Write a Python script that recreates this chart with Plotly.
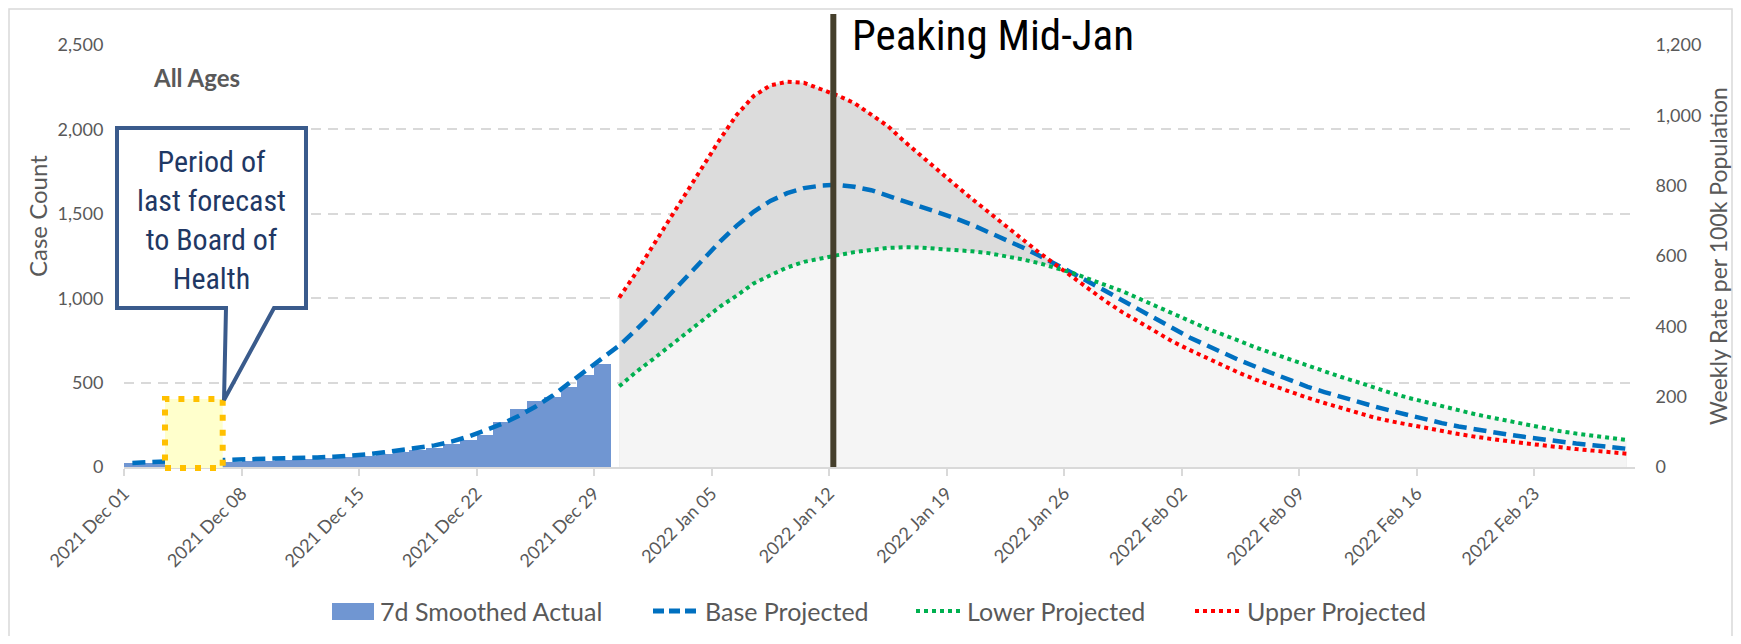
import pandas as pd
import plotly.graph_objects as go

# ---------------- data ----------------
actual_start = "2021-12-01"
actual_cases = [22, 23, 24, 25, 27, 29, 32, 35, 38, 42, 45, 49, 54, 60, 68, 77, 88, 100,
                115, 135, 162, 190, 269, 344, 389, 417, 476, 545, 610]

base_start = "2021-12-01"
base_projected = [24, 30, 33, 35, 37, 40, 43, 47, 49, 51, 53, 57, 61, 67, 75, 87, 99, 113,
                  128, 150, 180, 217, 255, 302, 357, 421, 496, 565, 644, 720, 812, 911, 1020,
                  1125, 1232, 1335, 1430, 1512, 1576, 1622, 1652, 1667, 1672, 1660, 1640, 1608,
                  1575, 1539, 1508, 1474, 1435, 1393, 1348, 1302, 1253, 1203, 1148, 1095, 1040,
                  982, 925, 870, 818, 766, 720, 674, 630, 590, 551, 513, 475, 444, 414, 386,
                  358, 332, 306, 283, 260, 240, 222, 206, 191, 177, 163, 150, 139, 129, 119, 108]

proj_start = "2021-12-30"
lower_projected = [478, 563, 638, 717, 792, 871, 950, 1016, 1087, 1136, 1182, 1215, 1237, 1255,
                   1273, 1288, 1298, 1302, 1300, 1292, 1288, 1278, 1267, 1251, 1230, 1208, 1182,
                   1150, 1113, 1076, 1040, 996, 951, 910, 866, 820, 783, 742, 705, 670, 635, 601,
                   565, 533, 502, 467, 438, 410, 385, 360, 336, 312, 292, 272, 252, 232, 213,
                   198, 184, 172, 160]
upper_projected = [1004, 1150, 1310, 1468, 1624, 1786, 1942, 2087, 2197, 2261, 2282, 2276, 2241,
                   2201, 2156, 2091, 2019, 1927, 1840, 1753, 1672, 1589, 1508, 1430, 1346, 1271,
                   1198, 1125, 1052, 980, 915, 855, 798, 741, 692, 644, 598, 554, 514, 478, 443,
                   410, 379, 349, 320, 292, 270, 250, 230, 211, 195, 179, 164, 152, 140, 127,
                   116, 106, 97, 88, 79]

x_tick_dates = pd.date_range("2021-12-01", "2022-02-23", freq="7D")
left_ticks = [0, 500, 1000, 1500, 2000, 2500]
right_ticks = [0, 200, 400, 600, 800, 1000, 1200]
peak_marker_date = "2022-01-12 06:00"

# ---------------- helpers (page pixels -> paper) ----------------
OFF = 8                      # default page margin of the html body
W, H = 1741 - 2 * OFF, 644 - 2 * OFF
def px(x):
    return (x - OFF) / W
def py(y):
    return 1 - (y - OFF) / H

half_day = pd.Timedelta(hours=12)
actual_x = pd.date_range(actual_start, periods=len(actual_cases), freq="D") + half_day
base_x = pd.date_range(base_start, periods=len(base_projected), freq="D") + half_day
proj_x = pd.date_range(proj_start, periods=len(upper_projected), freq="D") + half_day

GRAY_TXT = "#595959"
NARROW = "Liberation Sans Narrow, Arial Narrow, Roboto Condensed, DejaVu Sans Condensed, sans-serif"
LATO = "Lato, Carlito, Calibri, sans-serif"
BAR_C = "#7096D2"
BLUE = "#0070C0"
GREEN = "#00B050"
RED = "#FF0000"

fig = go.Figure()
fig.add_trace(go.Bar(x=actual_x, y=actual_cases, width=86400000, marker=dict(color=BAR_C, line=dict(width=0)),
                     name="7d Smoothed Actual", showlegend=False, hoverinfo="skip"))
fig.add_trace(go.Scatter(x=proj_x, y=upper_projected, mode="lines", line=dict(width=0),
                         fill="tozeroy", fillcolor="#DCDCDC", showlegend=False, hoverinfo="skip"))
fig.add_trace(go.Scatter(x=proj_x, y=lower_projected, mode="lines", line=dict(width=0),
                         fill="tozeroy", fillcolor="#F5F5F5", showlegend=False, hoverinfo="skip"))
fig.add_trace(go.Scatter(x=base_x, y=base_projected, mode="lines", name="Base Projected",
                         line=dict(color=BLUE, width=4.5, dash="13px,7px"), showlegend=False))
fig.add_trace(go.Scatter(x=proj_x, y=lower_projected, mode="lines", name="Lower Projected",
                         line=dict(color=GREEN, width=4, dash="4px,4px"), showlegend=False))
fig.add_trace(go.Scatter(x=proj_x, y=upper_projected, mode="lines", name="Upper Projected",
                         line=dict(color=RED, width=4, dash="4px,4px"), showlegend=False))
fig.add_trace(go.Scatter(x=[], y=[], yaxis="y2", showlegend=False))

shapes = []
# outer frame
shapes.append(dict(type="rect", xref="paper", yref="paper", x0=px(9), x1=px(1732), y0=py(640), y1=py(9),
                   line=dict(color="#D9D9D9", width=1.5), fillcolor="rgba(0,0,0,0)", layer="below"))
# peak marker line
shapes.append(dict(type="line", xref="x", yref="paper", x0=peak_marker_date, x1=peak_marker_date,
                   y0=py(467), y1=py(14), line=dict(color="#453F2C", width=6), layer="above"))
# yellow period box
shapes.append(dict(type="rect", xref="paper", yref="paper", x0=px(165), x1=px(222.7), y0=py(468), y1=py(399),
                   fillcolor="#FFFFCC", line=dict(color="#FFC000", width=6, dash="6px,9px"), layer="above"))
# callout
pts = [(117, 128), (306, 128), (306, 308), (274, 308), (224, 400), (226, 308), (117, 308)]
path = "M " + " L ".join(f"{px(a):.5f},{py(b):.5f}" for a, b in pts) + " Z"
shapes.append(dict(type="path", xref="paper", yref="paper", path=path, fillcolor="white",
                   line=dict(color="#3A5B8C", width=4), layer="above"))
# manual legend
shapes.append(dict(type="rect", xref="paper", yref="paper", x0=px(332), x1=px(374), y0=py(620), y1=py(603),
                   fillcolor=BAR_C, line=dict(width=0)))
shapes.append(dict(type="line", xref="paper", yref="paper", x0=px(653), x1=px(699), y0=py(611), y1=py(611),
                   line=dict(color=BLUE, width=5, dash="11px,5px")))
shapes.append(dict(type="line", xref="paper", yref="paper", x0=px(916), x1=px(964), y0=py(611), y1=py(611),
                   line=dict(color=GREEN, width=4, dash="4px,4px")))
shapes.append(dict(type="line", xref="paper", yref="paper", x0=px(1195), x1=px(1243), y0=py(611), y1=py(611),
                   line=dict(color=RED, width=4, dash="4px,4px")))

ann = []
def text(x, y, t, size, color=GRAY_TXT, family=LATO, xanchor="center", angle=0):
    ann.append(dict(x=px(x), y=py(y), xref="paper", yref="paper", text=t, showarrow=False,
                    xanchor=xanchor, yanchor="middle", textangle=angle, borderpad=0,
                    font=dict(family=family, size=size, color=color)))

text(211.5, 220, "Period of<br>last forecast<br>to Board of<br>Health", 30, color="#1F3864", family=NARROW)
text(851, 35, "Peaking Mid-Jan", 43, color="#000000", family=NARROW, xanchor="left")
text(196, 78, "<b>All Ages</b>", 24)
text(38, 216, "Case Count", 24, angle=-90)
text(1718, 256, "Weekly Rate per 100k Population", 23, angle=-90)
text(379, 611, "7d Smoothed Actual", 25, xanchor="left")
text(704, 611, "Base Projected", 25, xanchor="left")
text(966, 611, "Lower Projected", 25, xanchor="left")
text(1246, 611, "Upper Projected", 25, xanchor="left")

fig.update_layout(
    width=W, height=H, margin=dict(l=0, r=0, t=0, b=0, pad=0),
    paper_bgcolor="white", plot_bgcolor="white", bargap=0, showlegend=False,
    shapes=shapes, annotations=ann,
    xaxis=dict(type="date", range=["2021-12-01", "2022-03-01"], domain=[px(124), px(1635)],
               tickvals=x_tick_dates, tickformat="%Y %b %d", tickangle=-45,
               tickfont=dict(family=LATO, size=18, color=GRAY_TXT),
               showline=True, linecolor="#D9D9D9", linewidth=2, ticks="outside", ticklen=7,
               tickcolor="#D9D9D9", tickwidth=1.5, showgrid=False, zeroline=False,
               anchor="y", automargin=False),
    yaxis=dict(range=[0, 2500], domain=[py(467), py(45)], tickvals=left_ticks, tickformat=",",
               showgrid=True, gridcolor="#D9D9D9", gridwidth=2, griddash="10px,7px",
               zeroline=False, showline=False, ticks="outside", ticklen=16, tickcolor="rgba(0,0,0,0)",
               tickfont=dict(family=LATO, size=18, color=GRAY_TXT), automargin=False),
    yaxis2=dict(range=[0, 1200], overlaying="y", side="right", anchor="x", tickvals=right_ticks,
                tickformat=",", showgrid=False, zeroline=False, showline=False, ticks="outside",
                ticklen=16, tickcolor="rgba(0,0,0,0)",
                tickfont=dict(family=LATO, size=18, color=GRAY_TXT), automargin=False),
)

fig.write_html("out.html")
